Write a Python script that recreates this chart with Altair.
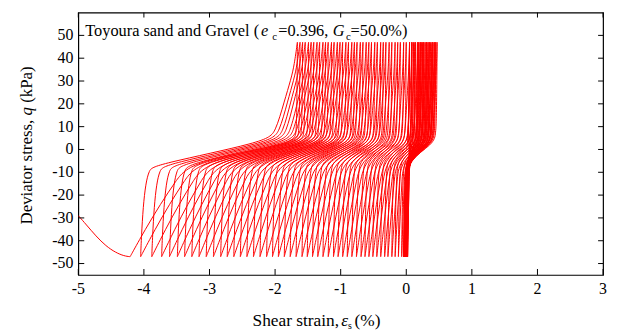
import altair as alt
import pandas as pd

# ---------------- data ----------------
# early cycles: compression tip (q = +47) grows, extension tip (q = -47) stays near 0
block_top = [0.05, 0.08, 0.11, 0.14, 0.17, 0.19, 0.21, 0.23, 0.25, 0.27,
             0.29, 0.31, 0.33, 0.35, 0.37, 0.39, 0.41, 0.43, 0.45, 0.47]
block_bottom = [0.02, 0.01, 0.015, 0.00, 0.02, -0.01, 0.01, -0.02, 0.015, -0.03,
                0.01, -0.02, 0.005, -0.04, 0.0, -0.03, 0.0, -0.04, -0.01, -0.03]
# later cycles: loops drift toward extension
move_top = [0.44, 0.40, 0.35, 0.31, 0.26, 0.22, 0.18, 0.13, 0.09, 0.05,
            0.00, -0.04, -0.09, -0.13, -0.17, -0.22, -0.26, -0.31, -0.35, -0.39,
            -0.44, -0.48, -0.53, -0.57, -0.61, -0.66, -0.70, -0.75, -0.79, -0.83,
            -0.88, -0.92, -0.97, -1.01, -1.05, -1.10, -1.14, -1.19, -1.23, -1.27,
            -1.32, -1.36, -1.41, -1.45, -1.49, -1.54, -1.58, -1.62, -1.66]
move_bottom = [-0.02, -0.07, -0.12, -0.17, -0.22, -0.28, -0.33, -0.39, -0.45, -0.51,
               -0.57, -0.63, -0.69, -0.76, -0.83, -0.90, -0.97, -1.04, -1.11, -1.19,
               -1.27, -1.35, -1.43, -1.51, -1.59, -1.68, -1.77, -1.86, -1.95, -2.04,
               -2.13, -2.23, -2.33, -2.43, -2.53, -2.63, -2.73, -2.83, -2.94, -3.05,
               -3.16, -3.27, -3.38, -3.49, -3.61, -3.73, -3.88, -4.05, -4.21]
# final branch after the last extension peak
tail_strain = [-4.30, -4.43, -4.58, -4.73, -4.88, -5.00]
tail_q = [-46.7, -45.2, -42.3, -38.0, -32.9, -29.0]
q_top = 47.0
q_bot = -47.0
x_ticks = [-5, -4, -3, -2, -1, 0, 1, 2, 3]
y_ticks = [-50, -40, -30, -20, -10, 0, 10, 20, 30, 40, 50]

# ---------------- build the loop path ----------------
tops = block_top + move_top
bots = block_bottom + move_bottom
pts = [(0.0, 0.0), (0.02, 2.0), (0.035, 15.0), (0.045, 32.0)]
pts += [(tops[0], q_top)] * 3


def ascend(a, b):
    span = b - a
    e = 0.05 * span + 0.01
    w = 0.2 * span
    qs = -3.0 - 1.6 * span
    qe = 2.0 + 0.6 * span
    out = [(a + 0.1 * e, -38.0), (a + 0.3 * e, -25.0), (a + 0.6 * e, -15.0),
           (a + e, -9.0), (a + 1.6 * e, qs)]
    if b - w > a + 1.6 * e + 0.01:
        out.append((b - w, qe))
    out += [(b - 0.7 * w, qe + 4.0), (b - 0.42 * w, 21.0), (b - 0.2 * w, 31.0),
            (b - 0.1 * w, 37.0)]
    out += [(b, q_top)] * 3
    return out


def descend(b, a):
    d = 0.35 * max(min(b, 0.0) - a, 0.0) + 0.03
    out = [(b - 0.004, 30.0), (b - 0.01, 15.0), (b - 0.02, 7.0)]
    if b - 0.05 > a + d:
        out.append((b - 0.05, 2.5))
    out += [(a + d, -5.0), (a + 0.75 * d, -14.0), (a + 0.5 * d, -24.0),
            (a + 0.25 * d, -35.0)]
    out += [(a, q_bot)] * 3
    return out


for i in range(len(tops)):
    if i > 0:
        pts += ascend(bots[i - 1], tops[i])
    pts += descend(tops[i], bots[i])
pts += list(zip(tail_strain, tail_q))

df = pd.DataFrame({"k": range(len(pts)),
                   "strain": [p[0] for p in pts],
                   "q": [p[1] for p in pts]})

# ---------------- chart ----------------
FONT = "Liberation Serif"
xscale = alt.Scale(domain=[-5, 3], nice=False, zero=False)
yscale = alt.Scale(domain=[-55, 60], nice=False, zero=False)
X = alt.X("strain:Q", scale=xscale, axis=None)
Y = alt.Y("q:Q", scale=yscale, axis=None)

W, H = 530, 265

lines = alt.Chart(df).mark_line(color="#ff0000", strokeWidth=1, interpolate="basis",
                                clip=True).encode(x=X, y=Y, order=alt.Order("k:Q"))

xt = pd.DataFrame({"strain": x_ticks, "lbl": [str(v) for v in x_ticks]})
yt = pd.DataFrame({"q": y_ticks, "lbl": [str(v) for v in y_ticks]})
tick_b = alt.Chart(xt).mark_rule(color="black").encode(x=X, y=alt.value(H), y2=alt.value(H - 6))
tick_t = alt.Chart(xt).mark_rule(color="black").encode(x=X, y=alt.value(0), y2=alt.value(5))
tick_l = alt.Chart(yt).mark_rule(color="black").encode(y=Y, x=alt.value(0), x2=alt.value(6))
tick_r = alt.Chart(yt).mark_rule(color="black").encode(y=Y, x=alt.value(W), x2=alt.value(W - 5))

lab_x = alt.Chart(xt).mark_text(font=FONT, fontSize=16, color="black", align="center",
                                baseline="alphabetic").encode(
    x=X, y=alt.value(H + 19), text="lbl:N")
lab_y = alt.Chart(yt).mark_text(font=FONT, fontSize=16, color="black", align="right",
                                baseline="middle").encode(
    y=Y, x=alt.value(-5), text="lbl:N")


def txt(s, x, y, size=16.5, style="normal", angle=0):
    return alt.Chart(pd.DataFrame({"t": [s]})).mark_text(
        font=FONT, fontSize=size, fontStyle=style, angle=angle, align="left",
        baseline="alphabetic", color="black").encode(
        text="t:N", x=alt.value(x), y=alt.value(y))


texts = [
    txt("Toyoura sand and Gravel (", 7, 23.3),
    txt("e", 184.5, 23.3, style="italic"),
    txt("c", 196, 27.8, size=11),
    txt("=0.396,", 202, 23.3),
    txt("G", 257, 23.3, style="italic"),
    txt("c", 270.5, 27.8, size=11),
    txt("=50.0%)", 275, 23.3),
    # x title
    txt("Shear strain,", 176, 316.3, size=17.5),
    txt("\u03b5", 265.5, 316.3, size=17.5, style="italic"),
    txt("s", 272.5, 320, size=10),
    txt("(%)", 279, 316.3, size=17.5),
    # y title (rotated)
    txt("Deviator stress,", -47, 214, size=17, angle=270),
    txt("q", -47, 104, size=17, style="italic", angle=270),
    txt("(kPa)", -47, 91.2, size=17, angle=270),
]

chart = alt.layer(lines, tick_b, tick_t, tick_l, tick_r, lab_x, lab_y, *texts).properties(
    width=W, height=H,
    padding={"left": 71, "top": 3, "right": 6, "bottom": 56},
    autosize=alt.AutoSizeParams(type="none"),
).configure_view(stroke="black", strokeWidth=1.2)

chart.save("out.html", embed_options={"renderer": "svg", "actions": False})
